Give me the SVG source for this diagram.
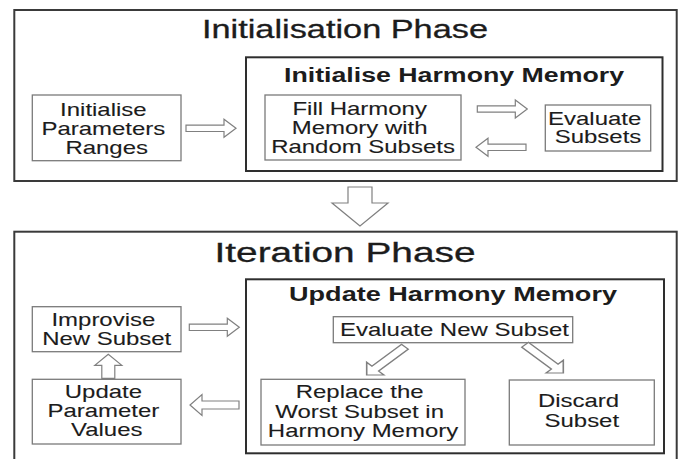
<svg xmlns="http://www.w3.org/2000/svg" width="682" height="459" viewBox="0 0 682 459">
  <style>
    text { font-family: "Liberation Sans", Arial, sans-serif; fill: #1c1c1c; text-anchor: middle; }
    .phase { font-size: 25px; stroke: #1c1c1c; stroke-width: 0.3; }
    .sub { font-size: 20px; font-weight: bold; }
    .lbl { font-size: 17.5px; stroke: #1c1c1c; stroke-width: 0.1; }
    .outer { fill: #ffffff; stroke: #3a3a3a; stroke-width: 2; }
    .inner { fill: #ffffff; stroke: #2e2e2e; stroke-width: 2; }
    .box { fill: #ffffff; stroke: #7a7a7a; stroke-width: 1.3; }
    .arr { fill: #ffffff; stroke: #808080; stroke-width: 1.2; stroke-linejoin: miter; }
  </style>
  <defs>
    <!-- hollow block arrows, tip at the origin, pointing along +x -->
    <path id="arrowH" d="M0,0 L-12,-9 L-12,-3.2 L-50,-3.2 L-50,3.2 L-12,3.2 L-12,9 Z"/>
    <path id="arrowHwide" d="M0,0 L-12,-10.5 L-12,-4 L-49,-4 L-49,4 L-12,4 L-12,10.5 Z"/>
    <path id="arrowUp" d="M0,0 L-11,-13.5 L-11,-6.5 L-24,-6.5 L-24,6.5 L-11,6.5 L-11,13.5 Z"/>
    <path id="arrowDiag" d="M0,0 L-9,-9 L-9,-3.5 L-40,-3.5 L-40,3.5 L-9,3.5 L-9,9 Z"/>
  </defs>

  <rect width="682" height="459" fill="#ffffff"/>

  <!-- Initialisation phase -->
  <g id="initialisation-phase">
    <rect class="outer" x="14.3" y="10" width="662.4" height="171"/>
    <text class="phase" x="345" y="38.3" textLength="286" lengthAdjust="spacingAndGlyphs">Initialisation Phase</text>
  </g>
  <g id="initialise-harmony-memory">
    <rect class="inner" x="246" y="57.3" width="416.5" height="113.7"/>
    <text class="sub" x="454" y="81.7" textLength="340" lengthAdjust="spacingAndGlyphs">Initialise Harmony Memory</text>
  </g>
  <g id="initialise-parameters">
    <rect class="box" x="32.3" y="95" width="148.7" height="65.7"/>
    <text class="lbl" transform="translate(106.7 0) scale(1.37 1)">
      <tspan x="0" y="116">Initialise</tspan>
      <tspan x="0" y="134.8">Parameters</tspan>
      <tspan x="0" y="153.6">Ranges</tspan>
    </text>
  </g>
  <g id="fill-harmony-memory">
    <rect class="box" x="265" y="95" width="196" height="65"/>
    <text class="lbl" transform="translate(363 0) scale(1.37 1)">
      <tspan x="0" y="115">Fill Harmony</tspan>
      <tspan x="0" y="134.3">Memory with</tspan>
      <tspan x="0" y="153.3">Random Subsets</tspan>
    </text>
  </g>
  <g id="evaluate-subsets">
    <rect class="box" x="545.3" y="105" width="105.4" height="46"/>
    <text class="lbl" transform="translate(598 0) scale(1.37 1)">
      <tspan x="0" y="125">Evaluate</tspan>
      <tspan x="0" y="143.3">Subsets</tspan>
    </text>
  </g>

  <!-- Iteration phase -->
  <g id="iteration-phase">
    <rect class="outer" x="14.3" y="231.7" width="662.4" height="235"/>
    <text class="phase" style="font-size:27px" x="345" y="262.3" textLength="261" lengthAdjust="spacingAndGlyphs">Iteration Phase</text>
  </g>
  <g id="update-harmony-memory">
    <rect class="inner" x="246" y="279.3" width="418" height="174"/>
    <text class="sub" x="453" y="300.7" textLength="328" lengthAdjust="spacingAndGlyphs">Update Harmony Memory</text>
  </g>
  <g id="improvise-new-subset">
    <rect class="box" x="32.3" y="306.7" width="148.7" height="45"/>
    <text class="lbl" transform="translate(106.7 0) scale(1.37 1)">
      <tspan x="0" y="326">Improvise</tspan>
      <tspan x="0" y="345">New Subset</tspan>
    </text>
  </g>
  <g id="update-parameter-values">
    <rect class="box" x="32.3" y="379.3" width="148.7" height="64.7"/>
    <text class="lbl" transform="translate(106.7 0) scale(1.37 1)">
      <tspan x="0" y="398.3">Update</tspan>
      <tspan x="0" y="417.3">Parameter</tspan>
      <tspan x="0" y="436.5">Values</tspan>
    </text>
  </g>
  <g id="evaluate-new-subset">
    <rect class="box" x="333.3" y="316.7" width="239.4" height="26"/>
    <text class="lbl" transform="translate(454.5 0) scale(1.37 1)">
      <tspan x="0" y="335.7">Evaluate New Subset</tspan>
    </text>
  </g>
  <g id="replace-worst-subset">
    <rect class="box" x="261" y="379.3" width="204" height="65.7"/>
    <text class="lbl" transform="translate(363 0) scale(1.37 1)">
      <tspan x="0" y="398">Replace the</tspan>
      <tspan x="0" y="417.8">Worst Subset in</tspan>
      <tspan x="0" y="437.3">Harmony Memory</tspan>
    </text>
  </g>
  <g id="discard-subset">
    <rect class="box" x="509.3" y="380" width="145" height="65"/>
    <text class="lbl" transform="translate(581.8 0) scale(1.37 1)">
      <tspan x="0" y="407.3">Discard</tspan>
      <tspan x="0" y="426.7">Subset</tspan>
    </text>
  </g>

  <!-- connectors -->
  <g id="connectors">
    <use href="#arrowH" class="arr" transform="translate(236 128.3)"/>
    <use href="#arrowH" class="arr" transform="translate(527.3 109)"/>
    <use href="#arrowH" class="arr" transform="translate(476 147.3) rotate(180)"/>
    <path class="arr" d="M360,226 L332,203 L348,203 L348,187 L372,187 L372,203 L388,203 Z"/>
    <use href="#arrowH" class="arr" transform="translate(239.3 327.3)"/>
    <use href="#arrowHwide" class="arr" transform="translate(190 405) rotate(180)"/>
    <use href="#arrowUp" class="arr" transform="translate(108.3 354.3) rotate(-90)"/>
    <use href="#arrowDiag" class="arr" transform="translate(366.7 375) scale(1.35 1) rotate(135)"/>
    <use href="#arrowDiag" class="arr" transform="translate(563.3 373) scale(1.35 1) rotate(45)"/>
  </g>
</svg>
